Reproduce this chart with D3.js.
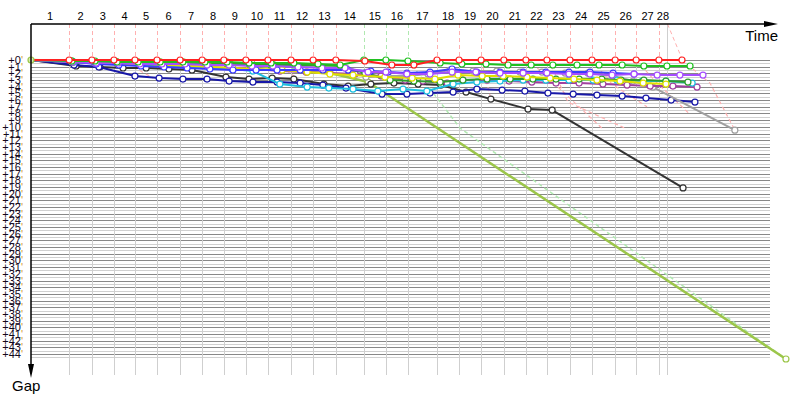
<!DOCTYPE html>
<html>
<head>
<meta charset="utf-8">
<script src="https://cdn.jsdelivr.net/npm/d3@7"></script>
<style>
    body { margin: 0; background: #fff; }
    text { font-family: "Liberation Sans", Arial, sans-serif; }
</style>
</head>
<body>
<svg id="gapChart" width="800" height="400"></svg>
<script>

// Lap numbers printed along the time axis
var lapLabels = [1, 2, 3, 4, 5, 6, 7, 8, 9, 10, 11, 12, 13, 14, 15, 16, 17, 18, 19, 20,
                 21, 22, 23, 24, 25, 26, 27, 28];

// Time (minutes) at which the leader closed each lap, start included
var lapTimes = [0, 10.9, 17.4, 23.7, 29.7, 36.0, 42.6, 48.9, 55.1, 61.4, 67.7, 74.3, 80.6, 87.1,
                95.1, 101.4, 107.7, 116.0, 122.3, 128.6, 135.1, 141.4, 147.4, 154.0, 160.3,
                166.9, 172.9, 179.4, 181.7];

// Time of the leading car's own mark for each lap (last lap ends later)
var leaderTimes = [0, 10.9, 17.4, 23.7, 29.7, 36.0, 42.6, 48.9, 55.1, 61.4, 67.7, 74.3, 80.6, 87.1,
                   95.1, 101.4, 107.7, 116.0, 122.3, 128.6, 135.1, 141.4, 147.4, 154.0, 160.3,
                   166.9, 172.9, 179.4, 186.0];

// Colour of the car leading at each lap
var lapLeader = ["red", "red", "red", "red", "red", "red", "red", "red", "red", "red", "red",
                 "red", "red", "red", "green", "green", "green", "red", "red", "red", "red",
                 "red", "red", "red", "red", "red", "red", "red", "red"];

// Gap ticks (minutes)
var gapTicks = d3.range(0, 45);

// One series per car: [time in minutes, gap in minutes]
var redCar = [[0,0],[10.9,0],[17.4,0],[23.7,0],[29.7,0],[36.0,0],[42.6,0],[48.9,0],[55.1,0],[61.4,0],
    [67.7,0],[74.3,0],[80.6,0],[87.1,0],[95.4,0.15],[103.1,0.75],[109.4,0.75],[116.0,0],[122.3,0],
    [128.6,0],[135.1,0],[141.4,0],[147.4,0],[154.0,0],[160.3,0],[166.9,0],[172.9,0],[179.4,0],[186.0,0]];

var greenCar = [[0,0],[11.7,0.15],[18.3,0.15],[24.6,0.3],[30.6,0.3],[36.9,0.3],[43.4,0.3],[49.7,0.3],
    [56.0,0.3],[62.3,0.45],[68.6,0.45],[75.1,0.45],[82.0,0.6],[88.3,0.75],[95.1,0],[101.4,0],
    [107.7,0.15],[116.9,0.45],[123.1,0.6],[130.0,0.6],[136.3,0.75],[142.9,0.75],[149.1,0.75],
    [156.0,0.75],[162.3,0.75],[168.9,0.75],[175.1,0.9],[181.7,0.9],[188.3,0.9]];

var violetCar = [[0,0],[12.0,0.3],[18.6,0.45],[24.9,0.45],[31.1,0.6],[37.4,0.6],[44.0,0.6],[50.3,0.75],
    [56.6,0.75],[63.1,0.9],[69.1,0.9],[76.3,1.05],[83.1,1.2],[89.7,1.2],[96.3,1.8],[101.4,1.8],
    [107.4,2.1],[114.0,2.1],[120.3,1.8],[127.1,1.8],[134.0,1.95],[140.6,1.95],[147.4,1.95],
    [153.7,2.1],[159.7,2.1],[166.0,2.25],[172.3,2.1],[178.9,2.25],[185.4,2.25],[192.0,2.25]];

var blueCar = [[0,0],[12.0,0.3],[18.6,0.6],[25.1,0.75],[31.4,0.9],[38.0,1.05],[44.6,1.2],[51.1,1.35],
    [57.7,1.5],[64.3,1.5],[70.3,1.5],[76.9,1.5],[83.4,1.5],[90.6,1.5],[97.1,1.65],[102.0,1.8],
    [107.4,1.95],[114.0,1.8],[120.3,1.35],[127.4,1.8],[134.0,1.8],[140.6,1.8],[147.1,1.8],
    [153.7,1.8],[159.7,1.8],[166.3,1.95],[172.3,2.1]];

var greyCar = [[0,0],[11.7,0.3],[18.3,0.45],[24.6,0.45],[31.1,0.6],[37.4,0.6],[44.0,0.45],[50.3,0.6],
    [56.9,0.6],[63.1,0.45],[69.1,0.6],[76.6,0.9],[83.1,1.05],[90.0,1.2],[95.7,2.55],[102.0,2.4],
    [107.4,2.4],[113.4,2.1],[119.7,1.5],[126.3,1.65],[133.1,1.65],[139.7,1.8],[146.0,1.8],
    [152.6,1.95],[159.1,1.95],[166.3,2.4],[172.0,3.15],[177.7,4.05],[201.1,10.5]];

var cyanCar = [[0,0],[12.3,0.3],[18.6,0.45],[25.1,0.6],[31.4,0.75],[38.0,0.9],[44.6,1.05],[51.1,1.2],
    [57.4,1.35],[63.4,1.65],[71.1,3.6],[78.9,4.05],[85.1,4.2],[92.0,4.35],[99.1,4.65],[106.3,4.35],
    [113.1,4.65],[120.6,3.6],[127.4,3.3],[134.0,3.15],[140.6,3.0],[147.1,3.0],[153.7,3.0],
    [160.6,3.0],[167.4,3.0],[174.6,3.15],[181.4,3.15],[188.9,3.45]];

var yellowCar = [[0,0],[12.0,0.3],[18.6,0.45],[25.1,0.6],[31.4,0.6],[38.0,0.75],[44.6,0.9],[51.1,1.05],
    [57.7,1.2],[64.3,1.35],[71.7,1.5],[78.9,1.8],[85.4,2.1],[92.0,2.25],[101.1,2.55],[108.9,2.7],
    [115.4,2.85],[122.0,2.25],[128.9,2.4],[134.9,2.4],[141.7,2.55],[148.3,2.7],[155.1,2.85],
    [161.7,3.0],[168.3,3.15],[174.9,3.45],[181.4,3.6]];

var purpleCar = [[0,0],[12.0,0.3],[18.6,0.45],[24.9,0.6],[31.4,0.6],[37.7,0.75],[44.3,0.9],[50.9,1.05],
    [57.4,1.2],[64.0,1.35],[71.1,1.65],[78.6,1.8],[85.4,1.95],[92.6,2.1],[100.0,2.4],[106.9,3.0],
    [112.0,3.15],[118.9,3.45],[123.4,3.0],[130.3,3.0],[136.6,3.15],[143.1,3.3],[150.0,3.45],
    [156.6,3.45],[163.4,3.6],[170.3,3.75],[176.9,3.9],[183.4,3.9],[190.3,4.05]];

var darkGreenCar = [[0,0],[11.7,0.15],[18.3,0.3],[24.6,0.3],[30.6,0.45],[36.9,0.45],[43.4,0.45],
    [49.7,0.6],[56.0,0.6],[62.3,0.6],[68.6,0.75],[75.1,0.75],[82.0,0.75],[88.3,0.9],[95.4,1.95],
    [102.6,3.0],[109.4,3.15],[116.9,3.3],[123.4,3.0],[130.3,2.85],[136.9,2.85],[143.4,2.85],
    [150.0,2.85],[156.6,2.85],[163.1,2.85],[168.6,3.0],[175.1,3.0],[181.4,3.15],[187.7,3.3]];

var navyCar = [[0,0],[12.3,0.75],[19.4,1.05],[29.7,2.4],[36.6,2.7],[43.4,2.85],[50.3,2.85],[56.6,3.15],
    [63.4,3.3],[70.3,3.3],[76.9,3.45],[83.4,3.75],[90.0,4.2],[100.3,5.1],[107.4,5.1],[114.0,4.95],
    [120.6,4.8],[127.4,4.35],[134.6,4.5],[141.1,4.65],[147.7,4.95],[154.9,5.1],[161.7,5.25],
    [168.9,5.4],[175.7,5.7],[182.9,6.0],[189.7,6.3]];

var blackCar = [[0,0],[12.9,0.9],[19.7,1.05],[26.3,1.2],[32.9,1.2],[39.4,1.35],[46.0,1.5],[55.7,2.55],
    [62.3,2.85],[68.9,2.7],[75.1,2.85],[83.7,3.6],[90.6,3.9],[97.1,3.6],[103.7,3.45],[110.6,3.6],
    [117.1,3.75],[124.3,4.8],[131.4,5.85],[142.0,7.35],[148.9,7.5],[186.3,19.15]];

var limeCar = [[0,0],[10.9,0.15],[18.0,0.3],[24.6,0.3],[30.6,0.3],[37.1,0.3],[43.7,0.3],[50.3,0.45],
    [56.9,0.6],[63.1,0.6],[71.7,1.5],[78.9,1.8],[85.4,1.95],[96.3,3.3],[215.7,44.75]];

// Lap lines running from a leader mark down through the field
var greenLapLine = [[107.7,0],[122.6,10.2],[215.7,44.75]];
var redLapLines = [
    [[23.7,0],[27.1,0.45],[34.9,2.7]],
    [[67.7,0],[72.0,1.2],[76.0,2.7]],
    [[128.6,0],[131.4,5.85]],
    [[141.4,0],[145.4,1.5],[163.1,10.2]],
    [[147.4,0],[149.1,1.35],[153.4,6.3],[169.7,10.2]],
    [[160.3,0],[166.0,3.6],[176.0,7.0]],
    [[172.9,0],[178.6,3.3],[188.0,8.0]],
    [[186.0,0],[194.0,3.45],[201.1,10.5]]
];

var cars = [
    {color: "#9cc64a", width: 2.5, data: limeCar},
    {color: "#333333", width: 2, data: blackCar},
    {color: "#1818a8", width: 2, data: navyCar},
    {color: "#a0a0a0", width: 2, data: greyCar},
    {color: "#a040a0", width: 2, data: purpleCar},
    {color: "#1ec0e0", width: 2, data: cyanCar},
    {color: "#2e9e2e", width: 2, data: darkGreenCar},
    {color: "#e0e000", width: 2, data: yellowCar},
    {color: "#3a3aff", width: 2, data: blueCar},
    {color: "#a64dff", width: 2, data: violetCar},
    {color: "#20c020", width: 2, data: greenCar},
    {color: "#ff2020", width: 2, data: redCar}
];

var leaderColor = {red: "#ffb0b0", green: "#b0e8b0"};

var svg = d3.select("#gapChart");

var axisTop = 24;
var gridBottom = 375;
var gridRight = 770;

var xScale = d3.scaleLinear().domain([0, 216]).range([31, 787]);
var yScale = d3.scaleLinear().domain([0, 44]).range([60, 354]);

// Horizontal grid, every half minute
svg.append("g")
    .selectAll("line")
    .data(d3.range(0, 44.51, 0.5))
    .enter()
    .append("line")
        .attr("x1", xScale(0))
        .attr("x2", gridRight)
        .attr("y1", d => Math.round(yScale(d)) + 0.5)
        .attr("y2", d => Math.round(yScale(d)) + 0.5)
        .attr("stroke", d => d % 1 === 0 ? "#888" : "#d0d0d0")
        .attr("stroke-width", 1);

// Vertical grid at the end of each lap
svg.append("g")
    .selectAll("line")
    .data(lapTimes.slice(1))
    .enter()
    .append("line")
        .attr("x1", d => Math.round(xScale(d)) + 0.5)
        .attr("x2", d => Math.round(xScale(d)) + 0.5)
        .attr("y1", (d, i) => i === lapTimes.length - 2 ? axisTop : yScale(0))
        .attr("y2", gridBottom)
        .attr("stroke", "#cfcfcf")
        .attr("stroke-width", 1);

// Dashed leader lines from the time axis to the leader mark
svg.append("g")
    .selectAll("line")
    .data(d3.range(1, lapTimes.length))
    .enter()
    .append("line")
        .attr("x1", i => Math.round(xScale(lapTimes[i])) + 0.5)
        .attr("y1", axisTop)
        .attr("x2", i => Math.round(xScale(leaderTimes[i])) + 0.5)
        .attr("y2", yScale(0))
        .attr("stroke", i => leaderColor[lapLeader[i]])
        .attr("stroke-width", 1)
        .attr("stroke-dasharray", "4,3");

var line = d3.line()
    .x(d => xScale(d[0]))
    .y(d => yScale(d[1]));

// Lap lines through the field
svg.append("g")
    .selectAll("path")
    .data(redLapLines)
    .enter()
    .append("path")
        .attr("d", line)
        .attr("fill", "none")
        .attr("stroke", leaderColor.red)
        .attr("stroke-width", 1.2)
        .attr("stroke-dasharray", "4,3");

svg.append("path")
    .attr("d", line(greenLapLine))
    .attr("fill", "none")
    .attr("stroke", leaderColor.green)
    .attr("stroke-width", 1.5)
    .attr("stroke-dasharray", "4,3");

// Cars
cars.forEach(function(car) {
    var g = svg.append("g");
    g.append("path")
        .attr("d", line(car.data))
        .attr("fill", "none")
        .attr("stroke", car.color)
        .attr("stroke-width", car.width)
        .attr("stroke-linejoin", "round");
    g.selectAll("circle")
        .data(car.data.slice(1))
        .enter()
        .append("circle")
            .attr("cx", d => xScale(d[0]))
            .attr("cy", d => yScale(d[1]))
            .attr("r", 3)
            .attr("fill", "#fff")
            .attr("stroke", car.color)
            .attr("stroke-width", 1.2);
});

// Start mark
svg.append("circle")
    .attr("cx", xScale(limeCar[0][0]))
    .attr("cy", yScale(limeCar[0][1]))
    .attr("r", 3)
    .attr("fill", "#d8ecb0")
    .attr("stroke", cars[0].color)
    .attr("stroke-width", 1.2);

// Time axis
svg.append("line")
    .attr("x1", xScale(0)).attr("y1", axisTop)
    .attr("x2", 770).attr("y2", axisTop)
    .attr("stroke", "#000").attr("stroke-width", 1.5);
svg.append("path")
    .attr("d", `M778,${axisTop} L764,${axisTop - 3} L764,${axisTop + 3} Z`)
    .attr("fill", "#000");

// Gap axis
svg.append("line")
    .attr("x1", xScale(0)).attr("y1", axisTop)
    .attr("x2", xScale(0)).attr("y2", 368)
    .attr("stroke", "#000").attr("stroke-width", 1.5);
svg.append("path")
    .attr("d", `M${xScale(0)},378 L${xScale(0) - 3},364 L${xScale(0) + 3},364 Z`)
    .attr("fill", "#000");

// Lap labels, centred on each lap
svg.append("g")
    .selectAll("text")
    .data(lapLabels)
    .enter()
    .append("text")
        .attr("x", (d, i) => (xScale(lapTimes[i]) + xScale(lapTimes[i + 1])) / 2)
        .attr("y", 20)
        .attr("text-anchor", "middle")
        .attr("font-size", "11px")
        .attr("fill", "#000")
        .text(d => d);

// Gap labels (they overlap, as in the original)
var gapLabels = svg.append("g")
    .selectAll("text")
    .data(gapTicks)
    .enter()
    .append("text")
        .attr("x", 23)
        .attr("y", d => yScale(d) + 4)
        .attr("text-anchor", "end")
        .attr("font-size", "11px")
        .attr("fill", "#14081c");
gapLabels.append("tspan").text(d => "+" + d);
gapLabels.append("tspan").attr("fill", "#d89a30").text("'");

svg.append("text")
    .attr("x", 778)
    .attr("y", 41)
    .attr("text-anchor", "end")
    .attr("font-size", "15px")
    .text("Time");

svg.append("text")
    .attr("x", 12)
    .attr("y", 391)
    .attr("font-size", "15px")
    .text("Gap");

</script>
</body>
</html>
